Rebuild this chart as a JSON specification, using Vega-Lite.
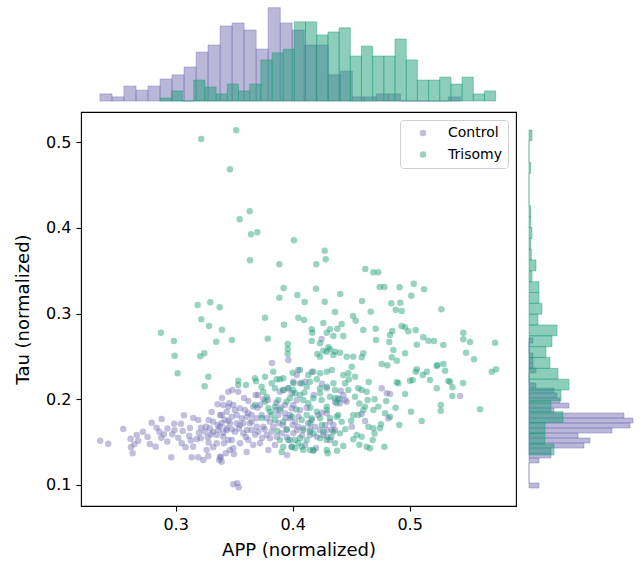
{
"$schema": "https://vega.github.io/schema/vega-lite/v6.json",
"padding": {"left": 14, "top": 3, "right": 5, "bottom": 5},
"bounds": "flush",
"spacing": 11,
"config": {
  "font": "DejaVu Sans",
  "view": {"stroke": null},
  "axis": {"labelFont": "DejaVu Sans", "titleFont": "DejaVu Sans", "labelFontSize": 16, "titleFontSize": 18, "titleFontWeight": "normal", "labelColor": "black", "titleColor": "black", "tickColor": "black", "domainColor": "black", "tickSize": 5, "tickWidth": 1.1, "labelPadding": 5, "grid": false},
  "axisX": {"titlePadding": 9},
  "axisY": {"titlePadding": 13}
},
"resolve": {"scale": {"color": "independent"}, "legend": {"color": "independent"}},
"datasets": {
"topC": [
{"lo":0.2353,"hi":0.2456,"d":1.9},{"lo":0.2456,"hi":0.2558,"d":1.1},{"lo":0.2558,"hi":0.2661,"d":4.0},{"lo":0.2661,"hi":0.2764,"d":2.9},{"lo":0.2764,"hi":0.2867,"d":4.0},{"lo":0.2867,"hi":0.2969,"d":5.9},{"lo":0.2969,"hi":0.3072,"d":7.0},{"lo":0.3072,"hi":0.3175,"d":9.1},{"lo":0.3175,"hi":0.3277,"d":13.1},{"lo":0.3277,"hi":0.3380,"d":15.0},{"lo":0.3380,"hi":0.3483,"d":20.1},{"lo":0.3483,"hi":0.3585,"d":20.9},{"lo":0.3585,"hi":0.3688,"d":19.0},{"lo":0.3688,"hi":0.3791,"d":13.9},{"lo":0.3791,"hi":0.3894,"d":25.0},{"lo":0.3894,"hi":0.3996,"d":20.9},{"lo":0.3996,"hi":0.4099,"d":19.0},{"lo":0.4099,"hi":0.4202,"d":15.0},{"lo":0.4202,"hi":0.4304,"d":15.0},{"lo":0.4304,"hi":0.4407,"d":7.0},{"lo":0.4407,"hi":0.4510,"d":8.0},{"lo":0.4510,"hi":0.4612,"d":1.1},{"lo":0.4612,"hi":0.4715,"d":1.1},{"lo":0.4715,"hi":0.4818,"d":1.9},{"lo":0.4818,"hi":0.4921,"d":1.9},{"lo":0.4921,"hi":0.5023,"d":0},{"lo":0.5023,"hi":0.5126,"d":0},{"lo":0.5126,"hi":0.5229,"d":0},{"lo":0.5229,"hi":0.5331,"d":0},{"lo":0.5331,"hi":0.5434,"d":1.1}
],
"topT": [
{"lo":0.2868,"hi":0.2964,"d":0.8},{"lo":0.2964,"hi":0.3059,"d":2.7},{"lo":0.3059,"hi":0.3155,"d":0},{"lo":0.3155,"hi":0.3250,"d":5.6},{"lo":0.3250,"hi":0.3346,"d":3.75},{"lo":0.3346,"hi":0.3441,"d":1.9},{"lo":0.3441,"hi":0.3537,"d":4.55},{"lo":0.3537,"hi":0.3633,"d":2.7},{"lo":0.3633,"hi":0.3728,"d":4.55},{"lo":0.3728,"hi":0.3824,"d":11.0},{"lo":0.3824,"hi":0.3919,"d":12.9},{"lo":0.3919,"hi":0.4015,"d":13.9},{"lo":0.4015,"hi":0.4110,"d":21.2},{"lo":0.4110,"hi":0.4206,"d":21.2},{"lo":0.4206,"hi":0.4302,"d":17.7},{"lo":0.4302,"hi":0.4397,"d":18.5},{"lo":0.4397,"hi":0.4493,"d":19.6},{"lo":0.4493,"hi":0.4588,"d":12.05},{"lo":0.4588,"hi":0.4684,"d":14.7},{"lo":0.4684,"hi":0.4779,"d":12.05},{"lo":0.4779,"hi":0.4875,"d":12.05},{"lo":0.4875,"hi":0.4971,"d":16.6},{"lo":0.4971,"hi":0.5066,"d":11.0},{"lo":0.5066,"hi":0.5162,"d":5.6},{"lo":0.5162,"hi":0.5257,"d":5.6},{"lo":0.5257,"hi":0.5353,"d":6.4},{"lo":0.5353,"hi":0.5448,"d":4.55},{"lo":0.5448,"hi":0.5544,"d":6.4},{"lo":0.5544,"hi":0.5639,"d":1.9},{"lo":0.5639,"hi":0.5735,"d":2.7}
],
"rightC": [
{"lo":0.0965,"hi":0.1023,"d":3.0},{"lo":0.1023,"hi":0.1082,"d":0},{"lo":0.1082,"hi":0.1140,"d":0},{"lo":0.1140,"hi":0.1198,"d":0},{"lo":0.1198,"hi":0.1257,"d":0},{"lo":0.1257,"hi":0.1315,"d":3.0},{"lo":0.1315,"hi":0.1373,"d":6.6},{"lo":0.1373,"hi":0.1431,"d":6.6},{"lo":0.1431,"hi":0.1490,"d":16.5},{"lo":0.1490,"hi":0.1548,"d":18.3},{"lo":0.1548,"hi":0.1606,"d":14.7},{"lo":0.1606,"hi":0.1665,"d":24.9},{"lo":0.1665,"hi":0.1723,"d":30.3},{"lo":0.1723,"hi":0.1781,"d":31.2},{"lo":0.1781,"hi":0.1840,"d":28.5},{"lo":0.1840,"hi":0.1898,"d":7.5},{"lo":0.1898,"hi":0.1956,"d":12.0},{"lo":0.1956,"hi":0.2015,"d":9.3},{"lo":0.2015,"hi":0.2073,"d":8.4},{"lo":0.2073,"hi":0.2131,"d":7.5},{"lo":0.2131,"hi":0.2190,"d":2.1},{"lo":0.2190,"hi":0.2248,"d":0},{"lo":0.2248,"hi":0.2306,"d":0},{"lo":0.2306,"hi":0.2364,"d":2.1},{"lo":0.2364,"hi":0.2423,"d":1.2},{"lo":0.2423,"hi":0.2481,"d":1.2},{"lo":0.2481,"hi":0.2539,"d":1.2},{"lo":0.2539,"hi":0.2598,"d":0},{"lo":0.2598,"hi":0.2656,"d":0},{"lo":0.2656,"hi":0.2714,"d":1.2}
],
"rightT": [
{"lo":0.5014,"hi":0.5140,"d":0.9},{"lo":0.4887,"hi":0.5014,"d":0},{"lo":0.4761,"hi":0.4887,"d":0},{"lo":0.4635,"hi":0.4761,"d":0.5},{"lo":0.4508,"hi":0.4635,"d":0},{"lo":0.4382,"hi":0.4508,"d":0},{"lo":0.4256,"hi":0.4382,"d":0},{"lo":0.4129,"hi":0.4256,"d":0.5},{"lo":0.4003,"hi":0.4129,"d":0.5},{"lo":0.3877,"hi":0.4003,"d":0.9},{"lo":0.3750,"hi":0.3877,"d":0.5},{"lo":0.3624,"hi":0.3750,"d":0.7},{"lo":0.3498,"hi":0.3624,"d":2.1},{"lo":0.3371,"hi":0.3498,"d":0.9},{"lo":0.3245,"hi":0.3371,"d":3.0},{"lo":0.3119,"hi":0.3245,"d":3.0},{"lo":0.2992,"hi":0.3119,"d":3.9},{"lo":0.2866,"hi":0.2992,"d":2.7},{"lo":0.2740,"hi":0.2866,"d":8.4},{"lo":0.2613,"hi":0.2740,"d":6.9},{"lo":0.2487,"hi":0.2613,"d":5.1},{"lo":0.2360,"hi":0.2487,"d":6.3},{"lo":0.2234,"hi":0.2360,"d":8.7},{"lo":0.2108,"hi":0.2234,"d":12.0},{"lo":0.1981,"hi":0.2108,"d":9.6},{"lo":0.1855,"hi":0.1981,"d":6.6},{"lo":0.1729,"hi":0.1855,"d":10.2},{"lo":0.1602,"hi":0.1729,"d":4.8},{"lo":0.1476,"hi":0.1602,"d":4.8},{"lo":0.1350,"hi":0.1476,"d":7.5}
],
"ctrl": [
{"APP":0.2355,"Tau":0.1517},{"APP":0.2424,"Tau":0.1482},{"APP":0.2552,"Tau":0.1654},{"APP":0.2615,"Tau":0.1540},{"APP":0.2667,"Tau":0.1584},{"APP":0.2680,"Tau":0.1517},{"APP":0.2646,"Tau":0.1475},{"APP":0.2618,"Tau":0.1440},{"APP":0.2632,"Tau":0.1370},{"APP":0.2795,"Tau":0.1727},{"APP":0.2838,"Tau":0.1669},{"APP":0.2880,"Tau":0.1770},{"APP":0.2780,"Tau":0.1479},{"APP":0.2829,"Tau":0.1447},{"APP":0.2877,"Tau":0.1552},{"APP":0.2900,"Tau":0.1592},{"APP":0.2928,"Tau":0.1506},{"APP":0.2971,"Tau":0.1592},{"APP":0.2988,"Tau":0.1715},{"APP":0.3045,"Tau":0.1715},{"APP":0.3071,"Tau":0.1813},{"APP":0.2962,"Tau":0.1324},{"APP":0.3022,"Tau":0.1552},{"APP":0.3051,"Tau":0.1487},{"APP":0.3085,"Tau":0.1440},{"APP":0.3122,"Tau":0.1665},{"APP":0.3116,"Tau":0.1575},{"APP":0.3150,"Tau":0.1781},{"APP":0.3193,"Tau":0.1758},{"APP":0.3216,"Tau":0.1669},{"APP":0.3259,"Tau":0.1680},{"APP":0.3137,"Tau":0.1324},{"APP":0.3193,"Tau":0.1324},{"APP":0.3236,"Tau":0.1292},{"APP":0.3180,"Tau":0.1537},{"APP":0.3214,"Tau":0.1545},{"APP":0.3150,"Tau":0.1447},{"APP":0.3282,"Tau":0.1494},{"APP":0.3274,"Tau":0.1557},{"APP":0.3265,"Tau":0.1408},{"APP":0.3279,"Tau":0.1338},{"APP":0.3321,"Tau":0.1440},{"APP":0.3351,"Tau":0.1487},{"APP":0.3373,"Tau":0.1292},{"APP":0.3385,"Tau":0.1324},{"APP":0.3428,"Tau":0.1370},{"APP":0.3359,"Tau":0.1941},{"APP":0.3308,"Tau":0.1852},{"APP":0.3282,"Tau":0.1758},{"APP":0.3321,"Tau":0.1739},{"APP":0.3379,"Tau":0.1817},{"APP":0.3393,"Tau":0.1720},{"APP":0.3364,"Tau":0.1641},{"APP":0.3351,"Tau":0.1584},{"APP":0.3407,"Tau":0.1610},{"APP":0.3436,"Tau":0.1662},{"APP":0.3450,"Tau":0.1525},{"APP":0.3413,"Tau":0.1487},{"APP":0.3450,"Tau":0.1750},{"APP":0.3436,"Tau":0.1855},{"APP":0.3450,"Tau":0.2088},{"APP":0.3458,"Tau":0.1953},{"APP":0.3293,"Tau":0.1662},{"APP":0.3493,"Tau":0.1009},{"APP":0.3527,"Tau":0.1020},{"APP":0.3539,"Tau":0.0974},{"APP":0.3484,"Tau":0.2108},{"APP":0.3621,"Tau":0.1980},{"APP":0.3684,"Tau":0.2050},{"APP":0.3823,"Tau":0.2423},{"APP":0.3963,"Tau":0.2458},{"APP":0.3920,"Tau":0.2108},{"APP":0.3963,"Tau":0.2128},{"APP":0.4048,"Tau":0.2341},{"APP":0.3535,"Tau":0.2088},{"APP":0.3407,"Tau":0.1933},{"APP":0.3450,"Tau":0.1914},{"APP":0.3493,"Tau":0.1933},{"APP":0.3550,"Tau":0.1895},{"APP":0.3593,"Tau":0.1875},{"APP":0.3663,"Tau":0.1914},{"APP":0.3721,"Tau":0.1933},{"APP":0.3393,"Tau":0.1817},{"APP":0.3479,"Tau":0.1797},{"APP":0.3522,"Tau":0.1817},{"APP":0.3564,"Tau":0.1778},{"APP":0.3607,"Tau":0.1797},{"APP":0.3650,"Tau":0.1817},{"APP":0.3693,"Tau":0.1778},{"APP":0.3735,"Tau":0.1817},{"APP":0.3778,"Tau":0.1778},{"APP":0.3806,"Tau":0.1739},{"APP":0.3834,"Tau":0.1680},{"APP":0.3877,"Tau":0.1817},{"APP":0.3749,"Tau":0.1680},{"APP":0.3693,"Tau":0.1680},{"APP":0.3635,"Tau":0.1720},{"APP":0.3578,"Tau":0.1720},{"APP":0.3522,"Tau":0.1720},{"APP":0.3464,"Tau":0.1720},{"APP":0.3379,"Tau":0.1680},{"APP":0.3436,"Tau":0.1641},{"APP":0.3507,"Tau":0.1622},{"APP":0.3578,"Tau":0.1603},{"APP":0.3650,"Tau":0.1641},{"APP":0.3706,"Tau":0.1622},{"APP":0.3778,"Tau":0.1584},{"APP":0.3806,"Tau":0.1545},{"APP":0.3864,"Tau":0.1564},{"APP":0.3906,"Tau":0.1603},{"APP":0.3949,"Tau":0.1641},{"APP":0.4035,"Tau":0.1641},{"APP":0.4020,"Tau":0.1739},{"APP":0.3977,"Tau":0.1817},{"APP":0.3934,"Tau":0.1837},{"APP":0.4091,"Tau":0.1662},{"APP":0.3407,"Tau":0.1564},{"APP":0.3479,"Tau":0.1525},{"APP":0.3550,"Tau":0.1487},{"APP":0.3621,"Tau":0.1525},{"APP":0.3663,"Tau":0.1467},{"APP":0.3721,"Tau":0.1487},{"APP":0.3792,"Tau":0.1408},{"APP":0.3464,"Tau":0.1408},{"APP":0.3379,"Tau":0.1330},{"APP":0.4348,"Tau":0.1700},{"APP":0.4362,"Tau":0.1641},{"APP":0.4319,"Tau":0.1739},{"APP":0.4362,"Tau":0.1972},{"APP":0.4390,"Tau":0.2011},{"APP":0.3891,"Tau":0.2088},{"APP":0.3934,"Tau":0.1933},{"APP":0.4006,"Tau":0.1933},{"APP":0.4063,"Tau":0.1875},{"APP":0.4134,"Tau":0.1720},{"APP":0.4191,"Tau":0.1680},{"APP":0.4234,"Tau":0.1641},{"APP":0.4277,"Tau":0.1700},{"APP":0.4148,"Tau":0.1584},{"APP":0.4206,"Tau":0.1564},{"APP":0.4262,"Tau":0.1584},{"APP":0.4411,"Tau":0.2100},{"APP":0.4433,"Tau":0.2050},{"APP":0.4462,"Tau":0.1972},{"APP":0.4405,"Tau":0.1953},{"APP":0.4761,"Tau":0.2128},{"APP":0.4804,"Tau":0.2070},{"APP":0.4832,"Tau":0.2062},{"APP":0.4590,"Tau":0.1829},{"APP":0.4619,"Tau":0.1747},{"APP":0.4818,"Tau":0.1778},{"APP":0.4505,"Tau":0.1680},{"APP":0.4334,"Tau":0.1641},{"APP":0.4319,"Tau":0.1525},{"APP":0.4248,"Tau":0.2703},{"APP":0.4177,"Tau":0.1400},{"APP":0.5431,"Tau":0.2038},{"APP":0.4163,"Tau":0.2322},{"APP":0.4035,"Tau":0.2283},{"APP":0.4006,"Tau":0.2205},{"APP":0.4063,"Tau":0.2186},{"APP":0.4106,"Tau":0.2205},{"APP":0.3992,"Tau":0.2070},{"APP":0.4035,"Tau":0.1991},{"APP":0.3992,"Tau":0.1895},{"APP":0.3977,"Tau":0.1778},{"APP":0.4048,"Tau":0.1680},{"APP":0.4006,"Tau":0.1603},{"APP":0.3977,"Tau":0.1525},{"APP":0.3992,"Tau":0.1447},{"APP":0.4163,"Tau":0.1758},{"APP":0.4219,"Tau":0.1817},{"APP":0.4291,"Tau":0.1641},{"APP":0.4296,"Tau":0.1564},{"APP":0.4291,"Tau":0.1837},{"APP":0.4248,"Tau":0.1844},{"APP":0.4448,"Tau":0.1991},{"APP":0.4291,"Tau":0.2128},{"APP":0.3607,"Tau":0.1385},{"APP":0.3393,"Tau":0.1272},{"APP":0.3493,"Tau":0.1428},{"APP":0.3498,"Tau":0.1362},{"APP":0.3507,"Tau":0.1875},{"APP":0.3610,"Tau":0.1641},{"APP":0.3738,"Tau":0.1548},{"APP":0.3849,"Tau":0.1467},{"APP":0.3917,"Tau":0.1700},{"APP":0.4000,"Tau":0.1700},{"APP":0.3858,"Tau":0.1875},{"APP":0.3789,"Tau":0.1991},{"APP":0.3704,"Tau":0.2050},{"APP":0.3584,"Tau":0.2015},{"APP":0.3396,"Tau":0.2015},{"APP":0.3319,"Tau":0.1618},{"APP":0.4106,"Tau":0.1467},{"APP":0.4200,"Tau":0.1432},{"APP":0.3952,"Tau":0.1350},
{"APP":0.3550,"Tau":0.1700},{"APP":0.3600,"Tau":0.1560},{"APP":0.3650,"Tau":0.1740},{"APP":0.3700,"Tau":0.1900},{"APP":0.3760,"Tau":0.1650},{"APP":0.3820,"Tau":0.1620},{"APP":0.3880,"Tau":0.1720},{"APP":0.3940,"Tau":0.1780},{"APP":0.3860,"Tau":0.1960},{"APP":0.3750,"Tau":0.2000},{"APP":0.3680,"Tau":0.1590},{"APP":0.3620,"Tau":0.1840},{"APP":0.3540,"Tau":0.1660},{"APP":0.3480,"Tau":0.1650},{"APP":0.3420,"Tau":0.1760},{"APP":0.3360,"Tau":0.1700},{"APP":0.3300,"Tau":0.1590},{"APP":0.3250,"Tau":0.1620},{"APP":0.3200,"Tau":0.1610},{"APP":0.3130,"Tau":0.1520},{"APP":0.3060,"Tau":0.1630},{"APP":0.2990,"Tau":0.1640},{"APP":0.2930,"Tau":0.1660},{"APP":0.2860,"Tau":0.1620},{"APP":0.2720,"Tau":0.1620},{"APP":0.2760,"Tau":0.1560},{"APP":0.3950,"Tau":0.1560},{"APP":0.4080,"Tau":0.1580},{"APP":0.4150,"Tau":0.1650},{"APP":0.4050,"Tau":0.1800},{"APP":0.4120,"Tau":0.1900},{"APP":0.4180,"Tau":0.2050},{"APP":0.4250,"Tau":0.2180},{"APP":0.3900,"Tau":0.1900}
],
"tri": [
{"APP":0.3219,"Tau":0.5035},{"APP":0.3518,"Tau":0.5136},{"APP":0.3464,"Tau":0.4682},{"APP":0.3633,"Tau":0.4192},{"APP":0.3547,"Tau":0.4099},{"APP":0.3644,"Tau":0.3924},{"APP":0.3698,"Tau":0.3947},{"APP":0.4011,"Tau":0.3854},{"APP":0.3635,"Tau":0.3621},{"APP":0.3886,"Tau":0.3574},{"APP":0.4274,"Tau":0.3733},{"APP":0.4283,"Tau":0.3632},{"APP":0.4202,"Tau":0.3574},{"APP":0.4621,"Tau":0.3519},{"APP":0.4690,"Tau":0.3481},{"APP":0.4732,"Tau":0.3481},{"APP":0.3923,"Tau":0.3298},{"APP":0.3886,"Tau":0.3185},{"APP":0.4040,"Tau":0.3216},{"APP":0.3188,"Tau":0.3099},{"APP":0.3296,"Tau":0.3131},{"APP":0.3376,"Tau":0.3073},{"APP":0.4200,"Tau":0.3289},{"APP":0.4744,"Tau":0.3309},{"APP":0.4784,"Tau":0.3309},{"APP":0.4915,"Tau":0.3306},{"APP":0.5035,"Tau":0.3348},{"APP":0.5123,"Tau":0.3282},{"APP":0.5014,"Tau":0.3208},{"APP":0.4407,"Tau":0.3228},{"APP":0.4103,"Tau":0.3134},{"APP":0.4274,"Tau":0.3138},{"APP":0.4593,"Tau":0.3146},{"APP":0.4843,"Tau":0.3119},{"APP":0.4920,"Tau":0.3126},{"APP":0.5271,"Tau":0.3049},{"APP":0.4881,"Tau":0.3045},{"APP":0.4932,"Tau":0.3029},{"APP":0.4362,"Tau":0.3018},{"APP":0.4667,"Tau":0.3021},{"APP":0.4516,"Tau":0.2971},{"APP":0.4539,"Tau":0.2916},{"APP":0.4097,"Tau":0.2924},{"APP":0.4262,"Tau":0.2890},{"APP":0.4419,"Tau":0.2878},{"APP":0.4382,"Tau":0.2823},{"APP":0.4319,"Tau":0.2816},{"APP":0.4291,"Tau":0.2776},{"APP":0.4348,"Tau":0.2738},{"APP":0.4433,"Tau":0.2738},{"APP":0.4163,"Tau":0.2816},{"APP":0.4168,"Tau":0.2776},{"APP":0.4604,"Tau":0.2808},{"APP":0.4710,"Tau":0.2823},{"APP":0.4852,"Tau":0.2796},{"APP":0.4832,"Tau":0.2750},{"APP":0.4826,"Tau":0.2668},{"APP":0.4932,"Tau":0.2855},{"APP":0.4961,"Tau":0.2839},{"APP":0.4989,"Tau":0.2793},{"APP":0.5052,"Tau":0.2808},{"APP":0.4713,"Tau":0.2691},{"APP":0.4163,"Tau":0.2680},{"APP":0.5117,"Tau":0.2723},{"APP":0.5160,"Tau":0.2683},{"APP":0.5208,"Tau":0.2680},{"APP":0.5288,"Tau":0.2633},{"APP":0.5061,"Tau":0.2637},{"APP":0.5459,"Tau":0.2776},{"APP":0.5459,"Tau":0.2700},{"APP":0.5516,"Tau":0.2668},{"APP":0.5730,"Tau":0.2660},{"APP":0.4861,"Tau":0.2575},{"APP":0.4961,"Tau":0.2536},{"APP":0.5482,"Tau":0.2543},{"APP":0.5550,"Tau":0.2466},{"APP":0.4211,"Tau":0.2528},{"APP":0.4262,"Tau":0.2567},{"APP":0.4319,"Tau":0.2583},{"APP":0.4362,"Tau":0.2555},{"APP":0.4405,"Tau":0.2543},{"APP":0.4462,"Tau":0.2497},{"APP":0.4518,"Tau":0.2497},{"APP":0.4604,"Tau":0.2536},{"APP":0.4590,"Tau":0.2490},{"APP":0.4847,"Tau":0.2490},{"APP":0.4890,"Tau":0.2450},{"APP":0.4761,"Tau":0.2412},{"APP":0.4809,"Tau":0.2396},{"APP":0.5061,"Tau":0.2350},{"APP":0.5052,"Tau":0.2322},{"APP":0.5146,"Tau":0.2322},{"APP":0.5174,"Tau":0.2225},{"APP":0.5232,"Tau":0.2388},{"APP":0.5288,"Tau":0.2411},{"APP":0.5303,"Tau":0.2333},{"APP":0.5345,"Tau":0.2205},{"APP":0.5232,"Tau":0.2128},{"APP":0.5003,"Tau":0.2217},{"APP":0.5026,"Tau":0.2225},{"APP":0.4890,"Tau":0.2198},{"APP":0.4903,"Tau":0.2186},{"APP":0.4961,"Tau":0.2062},{"APP":0.5012,"Tau":0.1855},{"APP":0.5103,"Tau":0.1747},{"APP":0.5266,"Tau":0.1933},{"APP":0.5266,"Tau":0.1867},{"APP":0.4912,"Tau":0.1700},{"APP":0.5331,"Tau":0.2213},{"APP":0.5365,"Tau":0.2140},{"APP":0.5365,"Tau":0.2038},{"APP":0.5456,"Tau":0.2190},{"APP":0.5602,"Tau":0.1883},{"APP":0.5702,"Tau":0.2322},{"APP":0.5739,"Tau":0.2350},{"APP":0.5112,"Tau":0.2283},{"APP":0.5237,"Tau":0.2400},{"APP":0.2874,"Tau":0.2776},{"APP":0.2985,"Tau":0.2680},{"APP":0.2991,"Tau":0.2508},{"APP":0.3210,"Tau":0.2501},{"APP":0.3245,"Tau":0.2536},{"APP":0.3017,"Tau":0.2303},{"APP":0.3279,"Tau":0.2263},{"APP":0.3248,"Tau":0.2151},{"APP":0.3219,"Tau":0.2933},{"APP":0.3285,"Tau":0.2855},{"APP":0.3396,"Tau":0.2811},{"APP":0.3347,"Tau":0.2671},{"APP":0.3481,"Tau":0.2691},{"APP":0.3764,"Tau":0.2951},{"APP":0.3926,"Tau":0.2870},{"APP":0.4048,"Tau":0.2951},{"APP":0.3787,"Tau":0.2707},{"APP":0.3958,"Tau":0.2645},{"APP":0.3958,"Tau":0.2586},{"APP":0.3958,"Tau":0.2528},{"APP":0.4234,"Tau":0.2653},{"APP":0.4305,"Tau":0.2606},{"APP":0.4234,"Tau":0.2497},{"APP":0.4291,"Tau":0.2555},{"APP":0.4348,"Tau":0.2516},{"APP":0.3834,"Tau":0.2322},{"APP":0.3764,"Tau":0.2263},{"APP":0.3821,"Tau":0.2186},{"APP":0.3892,"Tau":0.2233},{"APP":0.3920,"Tau":0.2245},{"APP":0.4000,"Tau":0.2310},{"APP":0.4063,"Tau":0.2341},{"APP":0.4134,"Tau":0.2283},{"APP":0.4177,"Tau":0.2322},{"APP":0.4234,"Tau":0.2303},{"APP":0.4291,"Tau":0.2322},{"APP":0.4334,"Tau":0.2341},{"APP":0.3535,"Tau":0.2217},{"APP":0.3535,"Tau":0.2167},{"APP":0.3601,"Tau":0.2167},{"APP":0.3678,"Tau":0.2245},{"APP":0.3735,"Tau":0.2147},{"APP":0.3749,"Tau":0.2088},{"APP":0.3687,"Tau":0.2210},{"APP":0.3864,"Tau":0.2233},{"APP":0.3849,"Tau":0.2128},{"APP":0.3920,"Tau":0.2108},{"APP":0.3963,"Tau":0.2128},{"APP":0.4006,"Tau":0.2186},{"APP":0.4077,"Tau":0.2186},{"APP":0.4148,"Tau":0.2205},{"APP":0.4206,"Tau":0.2233},{"APP":0.4120,"Tau":0.2147},{"APP":0.4234,"Tau":0.2128},{"APP":0.4291,"Tau":0.2147},{"APP":0.4348,"Tau":0.2186},{"APP":0.3778,"Tau":0.2030},{"APP":0.3764,"Tau":0.1972},{"APP":0.3792,"Tau":0.1895},{"APP":0.3806,"Tau":0.1855},{"APP":0.3849,"Tau":0.1914},{"APP":0.3877,"Tau":0.1992},{"APP":0.3891,"Tau":0.1875},{"APP":0.3949,"Tau":0.1972},{"APP":0.3977,"Tau":0.2011},{"APP":0.4020,"Tau":0.2070},{"APP":0.4063,"Tau":0.2050},{"APP":0.4091,"Tau":0.1992},{"APP":0.4134,"Tau":0.1953},{"APP":0.4177,"Tau":0.2011},{"APP":0.4234,"Tau":0.2070},{"APP":0.4319,"Tau":0.2030},{"APP":0.4362,"Tau":0.2011},{"APP":0.4376,"Tau":0.1953},{"APP":0.4291,"Tau":0.1875},{"APP":0.4206,"Tau":0.1855},{"APP":0.4120,"Tau":0.1817},{"APP":0.4077,"Tau":0.1758},{"APP":0.4163,"Tau":0.1778},{"APP":0.4234,"Tau":0.1778},{"APP":0.4319,"Tau":0.1778},{"APP":0.4376,"Tau":0.1797},{"APP":0.3992,"Tau":0.1797},{"APP":0.3920,"Tau":0.1739},{"APP":0.3849,"Tau":0.1758},{"APP":0.3891,"Tau":0.1525},{"APP":0.3920,"Tau":0.1447},{"APP":0.3992,"Tau":0.1447},{"APP":0.4020,"Tau":0.1525},{"APP":0.4063,"Tau":0.1545},{"APP":0.4077,"Tau":0.1447},{"APP":0.4120,"Tau":0.1525},{"APP":0.4148,"Tau":0.1408},{"APP":0.4234,"Tau":0.1545},{"APP":0.4291,"Tau":0.1525},{"APP":0.4291,"Tau":0.1408},{"APP":0.4362,"Tau":0.1487},{"APP":0.4177,"Tau":0.1408},{"APP":0.4091,"Tau":0.1408},{"APP":0.3963,"Tau":0.1525},{"APP":0.4433,"Tau":0.1455},{"APP":0.4300,"Tau":0.1370},{"APP":0.4548,"Tau":0.1583},{"APP":0.4590,"Tau":0.1564},{"APP":0.4518,"Tau":0.1533},{"APP":0.4633,"Tau":0.1447},{"APP":0.4661,"Tau":0.1428},{"APP":0.4684,"Tau":0.1525},{"APP":0.4784,"Tau":0.1447},{"APP":0.4647,"Tau":0.1680},{"APP":0.4690,"Tau":0.1662},{"APP":0.4747,"Tau":0.1662},{"APP":0.4561,"Tau":0.1817},{"APP":0.4518,"Tau":0.1817},{"APP":0.4604,"Tau":0.1875},{"APP":0.4690,"Tau":0.1875},{"APP":0.4732,"Tau":0.1914},{"APP":0.4790,"Tau":0.1837},{"APP":0.4832,"Tau":0.1797},{"APP":0.4755,"Tau":0.1708},{"APP":0.4633,"Tau":0.2088},{"APP":0.4641,"Tau":0.1991},{"APP":0.4619,"Tau":0.1914},{"APP":0.4561,"Tau":0.2128},{"APP":0.4590,"Tau":0.2108},{"APP":0.4533,"Tau":0.2030},{"APP":0.4433,"Tau":0.2283},{"APP":0.4476,"Tau":0.2303},{"APP":0.4505,"Tau":0.2380},{"APP":0.4533,"Tau":0.2263},{"APP":0.4448,"Tau":0.2186},{"APP":0.4476,"Tau":0.2108},{"APP":0.4362,"Tau":0.2108},{"APP":0.4405,"Tau":0.1602},{"APP":0.4348,"Tau":0.1622},{"APP":0.4262,"Tau":0.1622},{"APP":0.4390,"Tau":0.1817},{"APP":0.4419,"Tau":0.1739},{"APP":0.4291,"Tau":0.1914},{"APP":0.4248,"Tau":0.1991},{"APP":0.4148,"Tau":0.1720},{"APP":0.4091,"Tau":0.1641},{"APP":0.4148,"Tau":0.1622},{"APP":0.4048,"Tau":0.1487},{"APP":0.4020,"Tau":0.1428},{"APP":0.4006,"Tau":0.2108},{"APP":0.3906,"Tau":0.1385},{"APP":0.3821,"Tau":0.1817},{"APP":0.3738,"Tau":0.1782},{"APP":0.3678,"Tau":0.1934},
{"APP":0.4180,"Tau":0.1600},{"APP":0.4250,"Tau":0.1700},{"APP":0.4330,"Tau":0.1560},{"APP":0.4450,"Tau":0.1650},{"APP":0.4500,"Tau":0.1750},{"APP":0.4570,"Tau":0.1950},{"APP":0.4400,"Tau":0.2000},{"APP":0.4150,"Tau":0.1900},{"APP":0.4030,"Tau":0.1880},{"APP":0.3950,"Tau":0.1650},{"APP":0.3870,"Tau":0.1630},{"APP":0.4100,"Tau":0.2080},{"APP":0.4480,"Tau":0.2230},{"APP":0.4650,"Tau":0.2200},{"APP":0.4700,"Tau":0.2000},{"APP":0.4800,"Tau":0.1980},{"APP":0.4880,"Tau":0.1900},{"APP":0.4700,"Tau":0.1600},{"APP":0.4570,"Tau":0.1470},{"APP":0.4380,"Tau":0.1400}
]
},
"vconcat": [
  {
    "width": 435, "height": 98,
    "layer": [
      {"data": {"name": "topC"}, "mark": {"type": "rect", "color": "#7570b3", "fillOpacity": 0.5, "stroke": "#7570b3", "strokeOpacity": 0.55, "strokeWidth": 0.8},
       "encoding": {"x": {"field": "lo", "type": "quantitative", "scale": {"domain": [0.2191, 0.5909], "nice": false, "zero": false}, "axis": null}, "x2": {"field": "hi"}, "y": {"field": "d", "type": "quantitative", "scale": {"domain": [0, 26.25], "nice": false}, "axis": null}, "y2": {"datum": 0}}},
      {"data": {"name": "topT"}, "mark": {"type": "rect", "color": "#1b9e77", "fillOpacity": 0.5, "stroke": "#1b9e77", "strokeOpacity": 0.55, "strokeWidth": 0.8},
       "encoding": {"x": {"field": "lo", "type": "quantitative", "axis": null}, "x2": {"field": "hi"}, "y": {"field": "d", "type": "quantitative", "axis": null}, "y2": {"datum": 0}}}
    ]
  },
  {
    "bounds": "flush",
    "spacing": 13,
    "resolve": {"scale": {"color": "independent"}, "legend": {"color": "independent"}},
    "hconcat": [
      {
        "width": 435, "height": 394,
        "view": {"stroke": "black", "strokeWidth": 1.1},
        "layer": [
          {"data": {"name": "ctrl"}, "mark": {"type": "circle", "size": 42, "opacity": 0.45},
           "encoding": {
             "x": {"field": "APP", "type": "quantitative", "scale": {"domain": [0.2191, 0.5909], "nice": false, "zero": false}, "axis": {"values": [0.3, 0.4, 0.5], "format": ".1f", "title": "APP (normalized)", "domain": false}},
             "y": {"field": "Tau", "type": "quantitative", "scale": {"domain": [0.0755, 0.535], "nice": false, "zero": false}, "axis": {"values": [0.1, 0.2, 0.3, 0.4, 0.5], "format": ".1f", "title": "Tau (normalized)", "domain": false}},
             "color": {"datum": "Control", "type": "nominal", "scale": {"domain": ["Control", "Trisomy"], "range": ["#7570b3", "#1b9e77"]},
               "legend": {"title": null, "orient": "top-right", "offset": 8, "fillColor": "white", "strokeColor": "#d0d0d0", "cornerRadius": 3, "padding": 6, "symbolType": "circle", "symbolSize": 42, "symbolOpacity": 0.45, "symbolOffset": 10, "labelOffset": 18, "labelFontSize": 14, "labelFont": "DejaVu Sans", "labelColor": "black", "rowPadding": 7.5}}
           }},
          {"data": {"name": "tri"}, "mark": {"type": "circle", "size": 42, "opacity": 0.45},
           "encoding": {
             "x": {"field": "APP", "type": "quantitative"},
             "y": {"field": "Tau", "type": "quantitative"},
             "color": {"datum": "Trisomy", "type": "nominal"}
           }}
        ]
      },
      {
        "width": 109, "height": 394,
        "layer": [
          {"data": {"name": "rightC"}, "mark": {"type": "rect", "color": "#7570b3", "fillOpacity": 0.5, "stroke": "#7570b3", "strokeOpacity": 0.55, "strokeWidth": 0.8},
           "encoding": {"y": {"field": "lo", "type": "quantitative", "scale": {"domain": [0.0755, 0.535], "nice": false, "zero": false}, "axis": null}, "y2": {"field": "hi"}, "x": {"field": "d", "type": "quantitative", "scale": {"domain": [0, 32.7], "nice": false}, "axis": null}, "x2": {"datum": 0}}},
          {"data": {"name": "rightT"}, "mark": {"type": "rect", "color": "#1b9e77", "fillOpacity": 0.5, "stroke": "#1b9e77", "strokeOpacity": 0.55, "strokeWidth": 0.8},
           "encoding": {"y": {"field": "lo", "type": "quantitative", "axis": null}, "y2": {"field": "hi"}, "x": {"field": "d", "type": "quantitative", "axis": null}, "x2": {"datum": 0}}}
        ]
      }
    ]
  }
]
}
